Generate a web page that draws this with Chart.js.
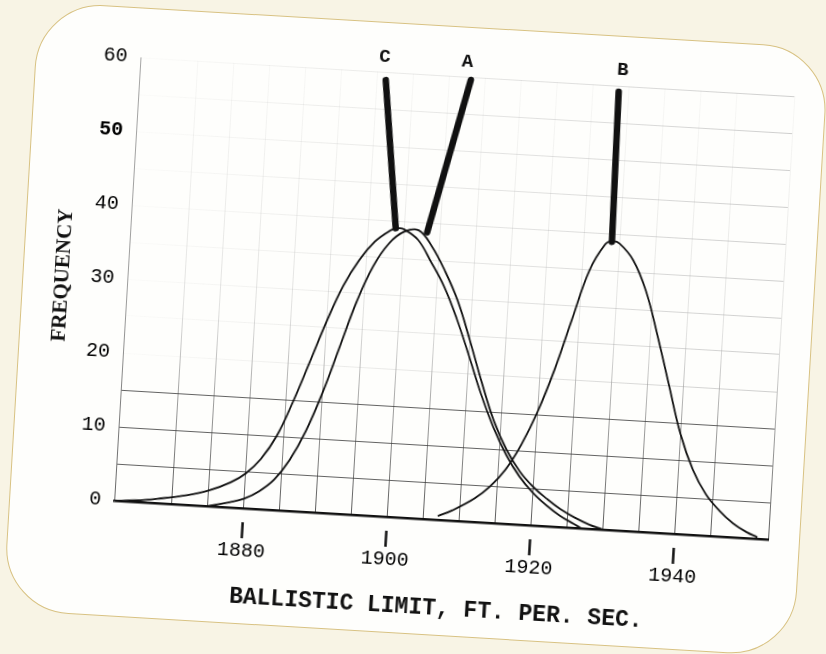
<!DOCTYPE html>
<html>
<head>
<meta charset="utf-8">
<script src="https://cdn.jsdelivr.net/npm/chart.js@4.4.1/dist/chart.umd.min.js"></script>
<style>
  html, body { margin: 0; padding: 0; width: 826px; height: 654px; overflow: hidden; background: #f8f4e5; }
  #slide { position: absolute; left: 0; top: 0; width: 826px; height: 654px; transform: rotate(3.4deg); transform-origin: 413px 327px; }
  #card { position: absolute; left: 20px; top: 24px; width: 792px; height: 610px; box-sizing: border-box;
          border-radius: 66px; background: #fefefc; border: 1.5px solid #d8c283; }
  #chart { position: absolute; left: 0; top: 0; }
</style>
</head>
<body>
<div id="slide">
  <div id="card"></div>
  <canvas id="chart" width="826" height="654"></canvas>
</div>
<script>
// tick labels
const xTickLabels = [1880, 1900, 1920, 1940];
const yTickLabels = [0, 10, 20, 30, 40, 50, 60];

// curve C (wide, left tail)
const cX = [1862, 1865, 1868, 1872, 1875, 1878, 1880, 1882, 1884, 1886, 1888, 1890, 1892, 1894, 1896, 1898, 1899, 1900, 1902, 1904, 1906, 1908, 1910, 1912, 1914, 1916, 1918, 1920, 1922, 1924, 1926, 1927];
const cY = [0, 0.2, 0.6, 1.3, 2.1, 3.4, 4.7, 6.8, 10.0, 14.8, 20.3, 25.9, 30.8, 34.4, 37.0, 38.6, 39.0, 38.9, 37.6, 34.7, 31.5, 27.3, 22.4, 17.3, 12.9, 9.3, 6.5, 4.4, 2.8, 1.5, 0.5, 0];

// curve A
const aX = [1875, 1878, 1880, 1882, 1884, 1886, 1888, 1890, 1892, 1894, 1896, 1898, 1900, 1902, 1904, 1906, 1908, 1910, 1912, 1914, 1916, 1918, 1920, 1922, 1924, 1926, 1928, 1930];
const aY = [0, 0.7, 1.3, 2.4, 4.1, 6.9, 10.9, 16.2, 22.5, 28.8, 33.7, 36.9, 38.6, 38.9, 36.8, 33.6, 29.7, 24.5, 18.9, 13.8, 10.0, 7.2, 5.2, 3.7, 2.4, 1.4, 0.6, 0];

// curve B
const bX = [1907, 1909, 1912, 1914, 1916, 1918, 1920, 1922, 1924, 1926, 1928, 1929, 1930, 1932, 1934, 1936, 1938, 1940, 1942, 1944, 1946, 1948, 1950, 1951.5];
const bY = [0.5, 1.4, 3.2, 4.9, 7.3, 10.8, 15.4, 21.2, 28.1, 34.8, 38.5, 39.0, 38.7, 36.6, 32.6, 26.6, 20.0, 13.5, 8.8, 5.6, 3.5, 1.9, 0.8, 0.2];

// leader lines from each peak up to its letter
const cLeadX = [1898.8, 1896.2], cLeadY = [39.0, 58.9];
const aLeadX = [1903.2, 1908.0], aLeadY = [38.7, 59.6];
const bLeadX = [1928.9, 1928.6], bLeadY = [38.9, 59.2];

const curveNames = ['C', 'A', 'B'];
const nameX = [1895.9, 1907.4, 1929.0];
const nameY = [62.0, 62.0, 62.2];

const INK = '#111111';
const pts = (xs, ys) => xs.map((v, i) => ({ x: v, y: ys[i] }));

function curve(xs, ys) {
  return { data: pts(xs, ys), borderColor: INK, borderWidth: 1.8, pointRadius: 0,
           tension: 0.4, fill: false };
}
function leader(xs, ys) {
  return { data: pts(xs, ys), borderColor: INK, borderWidth: 6.5, pointRadius: 0,
           borderCapStyle: 'round', tension: 0, clip: false, fill: false };
}

// vertical grid lines fade out towards the top
function gridX(context) {
  const chart = context.chart;
  const a = chart.chartArea;
  if (!a) return 'rgba(120,120,120,0.5)';
  const g = chart.ctx.createLinearGradient(0, a.bottom, 0, a.top);
  g.addColorStop(0, 'rgba(60,60,60,0.85)');
  g.addColorStop(0.25, 'rgba(100,100,100,0.6)');
  g.addColorStop(0.45, 'rgba(160,160,160,0.3)');
  g.addColorStop(1, 'rgba(200,200,200,0.12)');
  return g;
}
// horizontal lines: low ones are dark, upper ones faint, fading to the left
function gridY(context) {
  const chart = context.chart;
  const a = chart.chartArea;
  const v = context.tick ? context.tick.value : 0;
  if (v <= 15) return 'rgba(60,60,60,0.8)';
  if (!a) return 'rgba(180,180,180,0.3)';
  const g = chart.ctx.createLinearGradient(a.left, 0, a.right, 0);
  g.addColorStop(0, 'rgba(200,200,200,0.05)');
  g.addColorStop(0.25, 'rgba(180,180,180,0.2)');
  g.addColorStop(1, 'rgba(150,150,150,0.45)');
  return g;
}

// short tick marks set apart from the axis, and the curve letters
const marks = {
  id: 'marks',
  afterDatasetsDraw(chart) {
    const { ctx, scales: { x, y } } = chart;
    ctx.save();
    ctx.strokeStyle = INK;
    ctx.lineWidth = 2.5;
    xTickLabels.forEach(v => {
      const px = x.getPixelForValue(v);
      ctx.beginPath();
      ctx.moveTo(px, y.bottom + 14);
      ctx.lineTo(px, y.bottom + 30);
      ctx.stroke();
    });
    ctx.fillStyle = INK;
    ctx.font = 'bold 19px "Liberation Mono", monospace';
    ctx.textAlign = 'center';
    ctx.textBaseline = 'middle';
    curveNames.forEach((n, i) => {
      ctx.fillText(n, x.getPixelForValue(nameX[i]), y.getPixelForValue(nameY[i]));
    });
    ctx.restore();
  }
};

new Chart(document.getElementById('chart'), {
  type: 'line',
  data: {
    datasets: [
      curve(cX, cY), curve(aX, aY), curve(bX, bY),
      leader(cLeadX, cLeadY), leader(aLeadX, aLeadY), leader(bLeadX, bLeadY)
    ]
  },
  options: {
    responsive: false,
    animation: false,
    devicePixelRatio: 1,
    layout: { padding: { left: 0, right: 46, top: 74, bottom: 0 } },
    plugins: { legend: { display: false }, tooltip: { enabled: false } },
    scales: {
      x: {
        type: 'linear', min: 1862, max: 1953,
        afterFit: s => { s.height = 136; },
        border: { display: true, color: INK, width: 2.6 },
        grid: { color: gridX, lineWidth: 1, drawTicks: false },
        ticks: {
          stepSize: 5, autoSkip: false, maxRotation: 0, padding: 31, color: '#000',
          font: { family: '"Liberation Mono", monospace', size: 20 },
          callback: v => xTickLabels.includes(v) ? String(v) : ''
        },
        title: {
          display: true, text: 'BALLISTIC LIMIT, FT. PER. SEC.', color: INK,
          font: { family: '"Liberation Mono", monospace', size: 23, weight: 'bold' },
          padding: { top: 0, bottom: 33 }
        }
      },
      y: {
        min: 0, max: 60,
        afterFit: s => { s.width = 125; },
        border: { display: true, color: 'rgba(110,110,110,0.6)', width: 1 },
        grid: { color: gridY, lineWidth: 1, drawTicks: false },
        ticks: {
          stepSize: 5, autoSkip: false, padding: 13, color: '#000',
          font: ctx => ({ family: '"Liberation Mono", monospace', size: 20,
                          weight: ctx.tick && ctx.tick.value === 50 ? 'bold' : 'normal' }),
          callback: v => yTickLabels.includes(v) ? String(v) : ''
        },
        title: {
          display: true, text: 'FREQUENCY', color: INK,
          font: { family: '"Liberation Serif", serif', size: 21, weight: 'bold' },
          padding: { top: 48, bottom: 0 }
        }
      }
    }
  },
  plugins: [marks]
});
</script>
</body>
</html>
